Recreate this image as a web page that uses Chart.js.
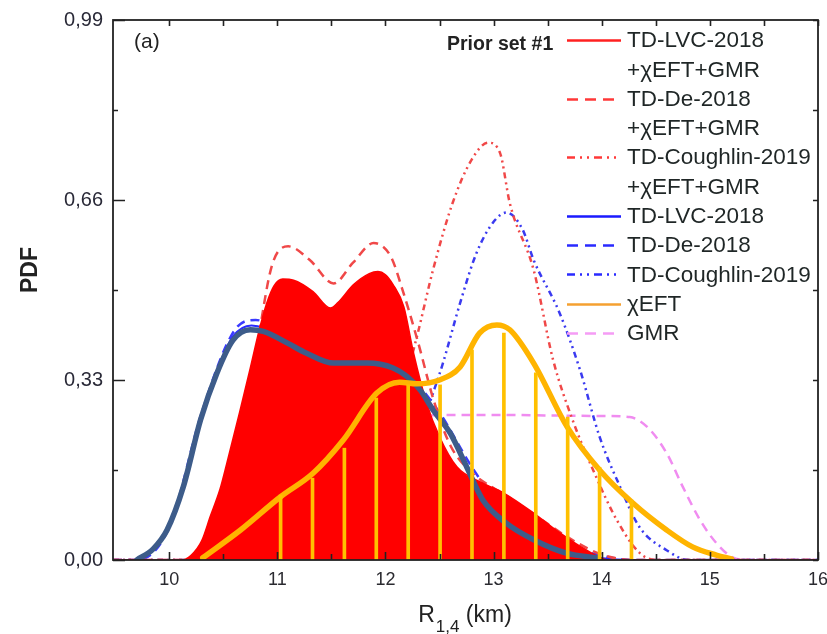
<!DOCTYPE html>
<html><head><meta charset="utf-8">
<script src="https://cdn.jsdelivr.net/npm/chart.js@4"></script>
<style>html,body{margin:0;padding:0;background:#fff;}canvas{display:block;}</style>
</head><body>
<canvas id="c" width="827" height="634" style="width:827px;height:634px"></canvas>
<script>
// ---------- axis definitions ----------
const X_MIN = 9.48, X_MAX = 16, Y_MIN = 0, Y_MAX = 0.99;
const xTickValues = [10, 11, 12, 13, 14, 15, 16];
const yTickValues = [0, 0.33, 0.66, 0.99];
const yTickLabels = ['0,00', '0,33', '0,66', '0,99'];
const yAxisTitle = 'PDF';
const xAxisTitleParts = ['R', '1,4', ' (km)'];
const panelLabel = '(a)';
const legendTitle = 'Prior set #1';

// ---------- series ----------
// TD-LVC-2018 + chiEFT + GMR (red, filled)
const lvcRedX = [9.48, 10.12, 10.2, 10.3, 10.38, 10.47, 10.53, 10.65, 10.75, 10.83, 10.9, 10.97, 11.05, 11.15, 11.33, 11.49, 11.56, 11.7, 11.85, 11.93, 12.0, 12.07, 12.17, 12.26, 12.38, 12.5, 12.66, 12.9, 13.09, 13.37, 13.61, 13.86, 14.07, 16];
const lvcRedY = [0, 0, 0.008, 0.035, 0.08, 0.13, 0.175, 0.27, 0.352, 0.42, 0.47, 0.503, 0.515, 0.513, 0.492, 0.462, 0.472, 0.504, 0.525, 0.529, 0.523, 0.505, 0.464, 0.379, 0.288, 0.226, 0.171, 0.141, 0.123, 0.086, 0.05, 0.018, 0, 0];
// TD-De-2018 + chiEFT + GMR (red dashed)
const deRedX = [9.48, 10.15, 10.4, 10.6, 10.8, 10.95, 11.1, 11.3, 11.52, 11.7, 11.89, 12.05, 12.15, 12.3, 12.45, 12.6, 12.8, 13.1, 13.4, 13.7, 14.0, 14.3, 16];
const deRedY = [0, 0, 0.07, 0.19, 0.38, 0.54, 0.575, 0.55, 0.507, 0.545, 0.581, 0.556, 0.5, 0.4, 0.29, 0.21, 0.16, 0.12, 0.08, 0.04, 0.01, 0, 0];
// TD-Coughlin-2019 + chiEFT + GMR (red dash-dot-dot)
const coRedX = [9.48, 11.4, 11.7, 12.0, 12.29, 12.44, 12.62, 12.8, 12.95, 13.06, 13.15, 13.37, 13.55, 13.73, 13.92, 14.14, 14.35, 14.5, 16];
const coRedY = [0, 0, 0.06, 0.2, 0.409, 0.532, 0.654, 0.735, 0.765, 0.746, 0.654, 0.532, 0.367, 0.257, 0.165, 0.073, 0.013, 0, 0];
// TD-LVC-2018 (blue solid)
const lvcBlueX = [9.48, 9.68, 9.85, 9.98, 10.13, 10.29, 10.44, 10.59, 10.76, 10.88, 11.09, 11.27, 11.52, 11.83, 12.07, 12.2, 12.32, 12.44, 12.6, 12.75, 12.9, 13.12, 13.37, 13.68, 13.96, 14.3, 16];
const lvcBlueY = [0, 0, 0.022, 0.058, 0.138, 0.262, 0.348, 0.41, 0.43, 0.425, 0.4, 0.38, 0.362, 0.362, 0.353, 0.337, 0.313, 0.276, 0.233, 0.172, 0.111, 0.068, 0.038, 0.013, 0.004, 0, 0];
// thick overlay of TD-LVC-2018
const lvcThickX = [9.7, 9.85, 9.98, 10.13, 10.29, 10.44, 10.59, 10.75, 10.87, 11.09, 11.27, 11.52, 11.83, 12.07, 12.2, 12.32, 12.44, 12.6, 12.75, 12.9, 13.12, 13.37, 13.68, 13.96];
const lvcThickY = [0, 0.02, 0.055, 0.134, 0.257, 0.342, 0.403, 0.422, 0.419, 0.398, 0.379, 0.361, 0.361, 0.352, 0.336, 0.312, 0.275, 0.232, 0.171, 0.11, 0.067, 0.037, 0.012, 0.004];
// TD-De-2018 (blue dashed)
const deBlueX = [9.48, 9.7, 10.0, 10.3, 10.6, 10.8, 11.1, 11.5, 11.9, 12.2, 12.5, 12.8, 13.1, 13.5, 14.0, 14.3, 16];
const deBlueY = [0, 0, 0.06, 0.27, 0.42, 0.44, 0.41, 0.37, 0.36, 0.34, 0.27, 0.17, 0.09, 0.04, 0.008, 0, 0];
// TD-Coughlin-2019 (blue dash-dot-dot)
const coBlueX = [9.48, 11.8, 12.1, 12.38, 12.53, 12.69, 12.84, 13.0, 13.12, 13.27, 13.37, 13.61, 13.8, 13.98, 14.17, 14.35, 14.6, 14.8, 16];
const coBlueY = [0, 0, 0.08, 0.27, 0.36, 0.471, 0.562, 0.62, 0.637, 0.605, 0.55, 0.453, 0.348, 0.226, 0.134, 0.06, 0.018, 0, 0];
// chiEFT (orange)
const chiX = [10.31, 10.66, 11.03, 11.33, 11.61, 11.92, 12.13, 12.29, 12.5, 12.69, 12.87, 13.03, 13.15, 13.37, 13.68, 13.98, 14.29, 14.6, 14.84, 15.06, 15.2];
const chiY = [0.004, 0.055, 0.116, 0.159, 0.22, 0.306, 0.326, 0.323, 0.33, 0.354, 0.416, 0.431, 0.422, 0.361, 0.244, 0.165, 0.104, 0.055, 0.024, 0.009, 0.002];
// chiEFT vertical bars
const chiBarX = [11.03, 11.325, 11.62, 11.915, 12.21, 12.505, 12.8, 13.095, 13.39, 13.685, 13.98, 14.275];
const chiBarY = [0.119, 0.15, 0.205, 0.297, 0.321, 0.321, 0.385, 0.416, 0.343, 0.262, 0.17, 0.11];
// GMR (pink dashed)
const gmrX = [9.48, 11.6, 11.9, 12.1, 12.3, 12.5, 13.0, 13.5, 14.0, 14.26, 14.42, 14.6, 14.75, 14.91, 15.06, 15.2, 15.35, 16];
const gmrY = [0, 0, 0.1, 0.2, 0.255, 0.266, 0.266, 0.265, 0.264, 0.262, 0.244, 0.196, 0.134, 0.073, 0.031, 0.006, 0, 0];

// legend
const legendLabels = ['TD-LVC-2018\n+χEFT+GMR', 'TD-De-2018\n+χEFT+GMR', 'TD-Coughlin-2019\n+χEFT+GMR', 'TD-LVC-2018', 'TD-De-2018', 'TD-Coughlin-2019', 'χEFT', 'GMR'];
const legendColors = ['#ff2020', '#ff3838', '#ff3838', '#1a1aff', '#2a2aff', '#2a2aff', '#f5a030', '#f59cf5'];
const DASH = [11, 7], DDOT = [8, 5, 2, 5, 2, 5];
const legendDashes = [[], DASH, DDOT, [], DASH, DDOT, [], DASH];

const pts = (xs, ys) => xs.map((x, i) => ({ x, y: ys[i] }));
const lineDs = (label, xs, ys, color, width, dash, extra) => Object.assign({
  type: 'line', label, data: pts(xs, ys), borderColor: color, borderWidth: width,
  borderDash: dash, pointRadius: 0, fill: false, cubicInterpolationMode: 'monotone',
  borderJoinStyle: 'round', borderCapStyle: dash.length ? 'butt' : 'round'
}, extra || {});

const datasets = [
  { type: 'bar', label: 'χEFT bars', data: pts(chiBarX, chiBarY), backgroundColor: '#ffc000', borderWidth: 0, barThickness: 3, grouped: false },
  lineDs('χEFT', chiX, chiY, '#ffb400', 5.5, []),
  lineDs('TD-LVC-2018 (overlay)', lvcThickX, lvcThickY, '#3d5c8a', 5.5, []),
  lineDs(legendLabels[0], lvcRedX, lvcRedY, '#ff0000', 1.5, [], { fill: 'origin', backgroundColor: '#ff0000' }),
  lineDs(legendLabels[1], deRedX, deRedY, '#f04848', 2.5, [9, 6]),
  lineDs(legendLabels[2], coRedX, coRedY, '#f04848', 2.5, [6, 4, 2, 4, 2, 4]),
  lineDs(legendLabels[3], lvcBlueX, lvcBlueY, '#2a2aff', 2, []),
  lineDs(legendLabels[4], deBlueX, deBlueY, '#3a3aff', 2.5, [9, 6]),
  lineDs(legendLabels[5], coBlueX, coBlueY, '#3a3af0', 2.5, [6, 4, 2, 4, 2, 4]),
  lineDs(legendLabels[7], gmrX, gmrY, '#f08cf0', 2.5, [9, 6])
];

const FONT = '"Liberation Sans", Arial, sans-serif';

const framePlugin = {
  id: 'frame',
  afterDatasetsDraw(chart) {
    const { ctx, chartArea: { left, right, top, bottom }, scales: { x, y } } = chart;
    ctx.save();
    ctx.strokeStyle = '#222';
    ctx.lineWidth = 1.6;
    ctx.setLineDash([]);
    ctx.beginPath();
    for (let v = 10; v <= X_MAX + 1e-9; v += 0.5) {
      const px = Math.round(x.getPixelForValue(v)) + 0.5;
      const lenB = Number.isInteger(v) ? 8 : 6;
      ctx.moveTo(px, bottom); ctx.lineTo(px, bottom - lenB);
      ctx.moveTo(px, top); ctx.lineTo(px, top + 6);
    }
    for (let i = 0; i <= 6; i++) {
      const v = i * 0.165;
      const py = Math.round(y.getPixelForValue(v)) + 0.5;
      const major = i % 2 === 0;
      ctx.moveTo(left, py); ctx.lineTo(left + (major ? 12 : 5), py);
      ctx.moveTo(right, py); ctx.lineTo(right - 5, py);
    }
    ctx.stroke();
    ctx.lineWidth = 1.8;
    ctx.strokeRect(left, top, right - left, bottom - top);
    ctx.restore();
  },
  afterDraw(chart) {
    const { ctx } = chart;
    ctx.save();
    ctx.fillStyle = '#222';
    // y title
    ctx.save();
    ctx.translate(31, 270);
    ctx.rotate(-Math.PI / 2);
    ctx.font = 'bold 23px ' + FONT;
    ctx.textAlign = 'center'; ctx.textBaseline = 'middle';
    ctx.fillText(yAxisTitle, 0, 0);
    ctx.restore();
    // x title with subscript
    const big = '23px ' + FONT, small = '17px ' + FONT;
    ctx.font = big; const w0 = ctx.measureText(xAxisTitleParts[0]).width;
    const w2 = ctx.measureText(xAxisTitleParts[2]).width;
    ctx.font = small; const w1 = ctx.measureText(xAxisTitleParts[1]).width;
    let sx = 465 - (w0 + w1 + w2 + 1) / 2;
    ctx.textBaseline = 'alphabetic'; ctx.textAlign = 'left';
    ctx.font = big; ctx.fillText(xAxisTitleParts[0], sx, 622); sx += w0 + 1;
    ctx.font = small; ctx.fillText(xAxisTitleParts[1], sx, 632); sx += w1;
    ctx.font = big; ctx.fillText(xAxisTitleParts[2], sx, 622);
    // panel label
    ctx.font = '21px ' + FONT; ctx.textBaseline = 'middle';
    ctx.fillText(panelLabel, 134, 42);
    // legend title
    ctx.font = 'bold 19.5px ' + FONT;
    ctx.fillText(legendTitle, 447, 45);
    // legend rows
    ctx.font = '22.5px ' + FONT;
    let row = 0;
    const rowY = r => 40 + r * 29.3;
    legendLabels.forEach((lab, i) => {
      const lines = lab.split('\n');
      const yy = rowY(row);
      ctx.save();
      ctx.strokeStyle = legendColors[i]; ctx.lineWidth = 2.5;
      ctx.setLineDash(legendDashes[i]);
      ctx.beginPath(); ctx.moveTo(567, Math.round(yy) + 0.5); ctx.lineTo(621, Math.round(yy) + 0.5); ctx.stroke();
      ctx.restore();
      ctx.fillStyle = '#1f2626';
      lines.forEach((t, k) => { ctx.fillText(t, 627, rowY(row + k) + 1); });
      row += lines.length;
    });
    ctx.restore();
  }
};

new Chart(document.getElementById('c'), {
  type: 'line',
  data: { datasets },
  options: {
    responsive: false, animation: false, devicePixelRatio: 1,
    layout: { padding: { top: 20, right: 9, left: 0, bottom: 0 } },
    plugins: { legend: { display: false }, tooltip: { enabled: false } },
    scales: {
      x: {
        type: 'linear', min: X_MIN, max: X_MAX, offset: false,
        grid: { display: false, drawTicks: false }, border: { display: false },
        afterBuildTicks: s => { s.ticks = xTickValues.map(v => ({ value: v })); },
        afterFit: s => { s.height = 74; s.paddingRight = 0; s.paddingLeft = 0; },
        ticks: { padding: 9, color: '#2a2a30', font: { size: 18, family: FONT }, maxRotation: 0, callback: v => String(v) }
      },
      y: {
        type: 'linear', min: Y_MIN, max: Y_MAX,
        grid: { display: false, drawTicks: false }, border: { display: false },
        afterBuildTicks: s => { s.ticks = yTickValues.map(v => ({ value: v })); },
        afterFit: s => { s.width = 113; s.paddingTop = 0; s.paddingBottom = 0; },
        ticks: { padding: 10, color: '#2a2a38', font: { size: 20, family: FONT }, callback: v => yTickLabels[yTickValues.indexOf(v)] }
      }
    }
  },
  plugins: [framePlugin]
});
</script>
</body></html>
